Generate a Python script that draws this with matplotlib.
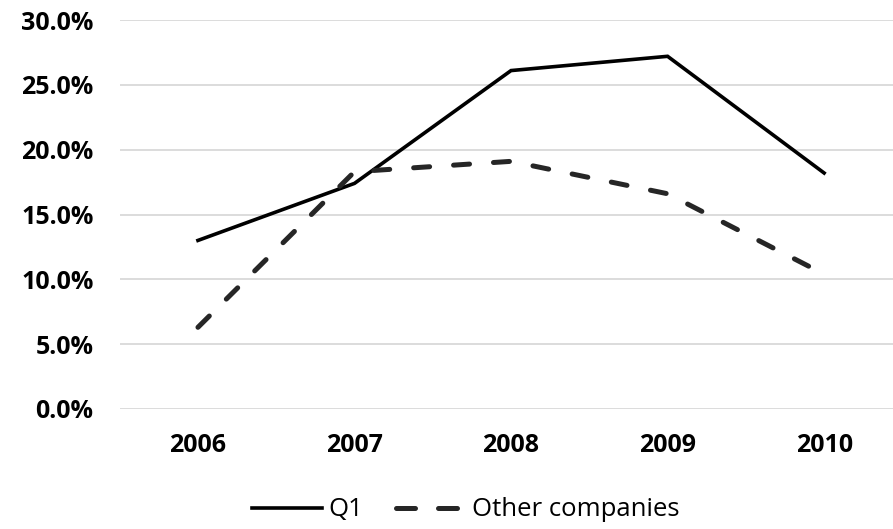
import matplotlib
matplotlib.use("Agg")
import matplotlib.pyplot as plt
from matplotlib.ticker import FuncFormatter
from matplotlib.lines import Line2D

years = ["2006", "2007", "2008", "2009", "2010"]
q1 = [13.0, 17.4, 26.1, 27.2, 18.2]
other_companies = [6.3, 18.3, 19.1, 16.6, 10.4]
y_ticks = [0, 5, 10, 15, 20, 25, 30]

plt.rcParams["font.family"] = ["Open Sans", "DejaVu Sans"]

fig = plt.figure(figsize=(8.93, 5.29), dpi=100)
ax = fig.add_axes([120 / 893, 1 - 409 / 529, 1 - 120 / 893, (409 - 20) / 529])

x = list(range(len(years)))
ax.plot(x, q1, color="black", lw=2.6, solid_joinstyle="miter", label="Q1")
ax.plot(x, other_companies, color="#262626", lw=3.6, dashes=(3.2, 4.8),
        dash_capstyle="round", label="Other companies")

ax.set_xlim(-0.498, 4.44)
ax.set_ylim(0, 30)
ax.set_yticks(y_ticks)
ax.yaxis.set_major_formatter(FuncFormatter(lambda v, p: f"{v:.1f}%"))
ax.set_xticks(x)
ax.set_xticklabels(years)
ax.grid(axis="y", color="#d9d9d9", lw=1.3)
ax.set_axisbelow(True)
for s in ax.spines.values():
    s.set_visible(False)
ax.tick_params(length=0, labelsize=18)
ax.tick_params(axis="y", pad=19)
ax.tick_params(axis="x", pad=17)
for lab in ax.get_xticklabels() + ax.get_yticklabels():
    lab.set_fontweight("bold")

handles = [
    Line2D([], [], color="black", lw=2.6),
    Line2D([], [], color="#262626", lw=3.6, dashes=(3.8, 4.6), dash_capstyle="round"),
]
fig.legend(handles, ["Q1", "Other companies"], loc="center", bbox_to_anchor=(466 / 893, 1 - 510 / 529),
           ncol=2, frameon=False, fontsize=18.5, handlelength=2.7, handletextpad=0.25, columnspacing=1.3)

fig.savefig("out.png", dpi=100)
